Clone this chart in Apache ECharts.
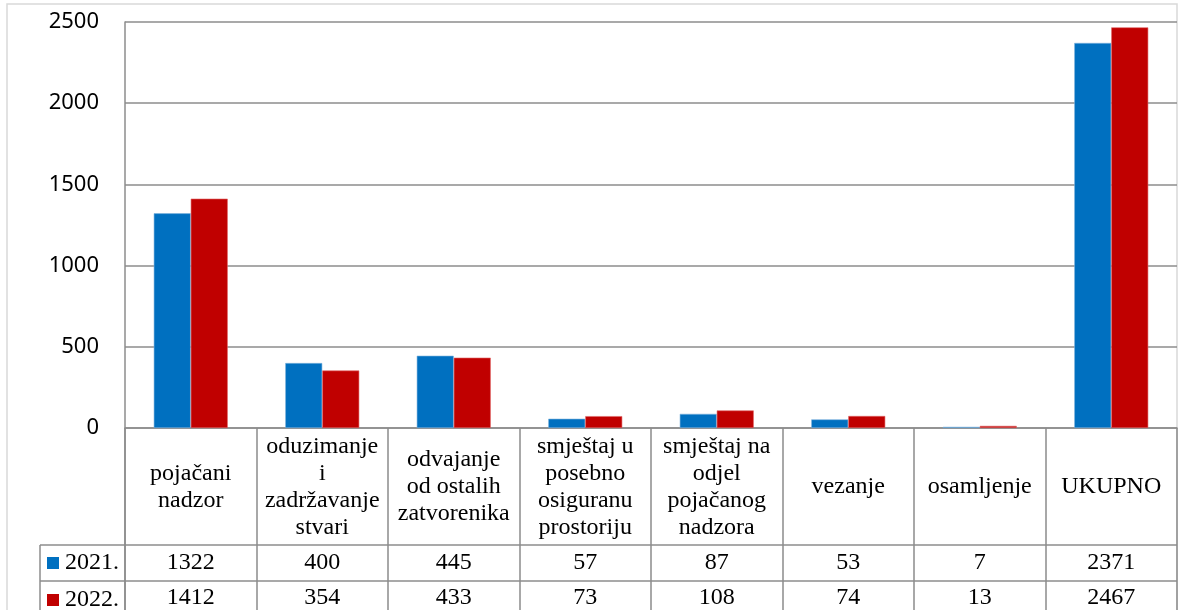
<!DOCTYPE html>
<html>
<head>
<meta charset="utf-8">
<script src="https://cdn.jsdelivr.net/npm/echarts@6/dist/echarts.min.js"></script>
<style>html,body{margin:0;padding:0;background:#fff}#c{width:1179px;height:610px}</style>
</head>
<body>
<div id="c"></div>
<script>
var categories = ['pojačani\nnadzor', 'oduzimanje\ni\nzadržavanje\nstvari', 'odvajanje\nod ostalih\nzatvorenika', 'smještaj u\nposebno\nosiguranu\nprostoriju', 'smještaj na\nodjel\npojačanog\nnadzora', 'vezanje', 'osamljenje', 'UKUPNO'];
var series2021 = [1322, 400, 445, 57, 87, 53, 7, 2371];
var series2022 = [1412, 354, 433, 73, 108, 74, 13, 2467];
var seriesNames = ['2021.', '2022.'];
var yTicks = [0, 500, 1000, 1500, 2000, 2500];

var chart = echarts.init(document.getElementById('c'));
var serif = '"Liberation Serif", "Times New Roman", serif';
var gridCol = '#8c8c8c';
var top0 = 22, leftG = 125, rightG = 2, axisY = 428;
var fs = 24;

function valueAxis(values, margin) {
  return {
    type: 'category', position: 'bottom', data: values.map(String),
    axisLine: {show: false}, axisTick: {show: false},
    axisLabel: {margin: margin, verticalAlign: 'middle', fontFamily: serif, fontSize: fs, color: '#000', interval: 0}
  };
}

chart.setOption({
  animation: false,
  backgroundColor: '#fff',
  grid: {left: leftG, right: rightG, top: top0, bottom: 610 - axisY, containLabel: false},
  legend: {
    orient: 'vertical', left: 47, top: 551, height: 120, padding: 0, itemGap: 13,
    itemWidth: 12, itemHeight: 12, icon: 'rect',
    itemStyle: {borderWidth: 0},
    textStyle: {fontFamily: serif, fontSize: fs, color: '#000', lineHeight: 23, padding: [0, 0, 0, 1]},
    data: seriesNames
  },
  xAxis: [
    {
      type: 'category', data: categories,
      axisLine: {show: true, lineStyle: {color: gridCol, width: 1.5}},
      axisTick: {show: true, length: 200, lineStyle: {color: gridCol, width: 1.5}},
      axisLabel: {margin: 59, verticalAlign: 'middle', fontFamily: serif, fontSize: fs, lineHeight: 27, color: '#000', interval: 0, align: 'center'},
      splitLine: {show: false}
    },
    valueAxis(series2021, 135),
    valueAxis(series2022, 170)
  ],
  yAxis: {
    type: 'value', min: 0, max: 2500, interval: 500,
    axisLine: {show: true, lineStyle: {color: gridCol, width: 1.5}},
    axisTick: {show: false},
    axisLabel: {margin: 26, fontFamily: '"Noto Sans", sans-serif', fontSize: 22, color: '#000',
      formatter: function (v) { return yTicks.indexOf(v) >= 0 ? String(v) : ''; }},
    splitLine: {show: true, lineStyle: {color: gridCol, width: 1.5}}
  },
  series: [
    {name: seriesNames[0], type: 'bar', data: series2021, barWidth: 37, barGap: '0%',
      itemStyle: {color: '#0070C0', borderColor: '#7fb4de', borderWidth: 0.6}},
    {name: seriesNames[1], type: 'bar', data: series2022, barWidth: 37, barGap: '0%',
      itemStyle: {color: '#C00000', borderColor: '#e06666', borderWidth: 0.6}}
  ],
  graphic: [
    {type: 'rect', shape: {x: 7, y: 4, width: 1170, height: 620}, style: {fill: 'none', stroke: '#d9d9d9', lineWidth: 1.5}, silent: true, z: -1},
    {type: 'line', shape: {x1: 40, y1: 545, x2: 1177, y2: 545}, style: {stroke: gridCol, lineWidth: 1.5}},
    {type: 'line', shape: {x1: 40, y1: 581, x2: 1177, y2: 581}, style: {stroke: gridCol, lineWidth: 1.5}},
    {type: 'line', shape: {x1: 40, y1: 545, x2: 40, y2: 612}, style: {stroke: gridCol, lineWidth: 1.5}},
    {type: 'line', shape: {x1: 125, y1: 428, x2: 125, y2: 612}, style: {stroke: gridCol, lineWidth: 1.5}}
  ]
});
</script>
</body>
</html>
